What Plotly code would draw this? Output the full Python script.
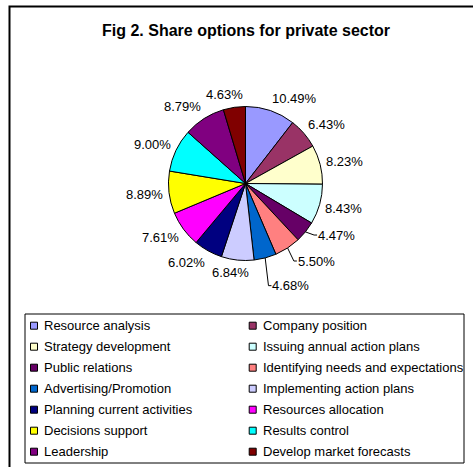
import math
import plotly.graph_objects as go

# ---- data ----
categories = [
    "Resource analysis", "Company position", "Strategy development",
    "Issuing annual action plans", "Public relations",
    "Identifying needs and expectations", "Advertising/Promotion",
    "Implementing action plans", "Planning current activities",
    "Resources allocation", "Decisions support", "Results control",
    "Leadership", "Develop market forecasts",
]
shares = [10.49, 6.43, 8.23, 8.43, 4.47, 5.50, 4.68, 6.84, 6.02, 7.61, 8.89, 9.00, 8.79, 4.63]
colors = [
    "#9999FF", "#993366", "#FFFFCC", "#CCFFFF", "#660066", "#FF8080", "#0066CC",
    "#CCCCFF", "#000080", "#FF00FF", "#FFFF00", "#00FFFF", "#800080", "#800000",
]
title_text = "Fig 2. Share options for private sector"

# ---- layout constants (window pixels) ----
W, H = 473, 467
CX, CY, R = 245.5, 183.5, 77.0
FONT = "Arial, Liberation Sans, sans-serif"
LABEL_SIZE = 13
# label nudges for crowded labels (pixel dx, dy), indexed by slice
label_nudge = {4: (8, -5.5), 5: (7, 1.5), 6: (7.7, 15.4)}


def px(x):
    return x / W


def py(y):
    return 1 - y / H


CHAR_W = {"%": 0.889, ".": 0.278}


def text_w(s, size):
    return sum(CHAR_W.get(c, 0.556) for c in s) * size


fig = go.Figure(
    go.Pie(
        labels=categories,
        values=shares,
        sort=False,
        direction="clockwise",
        rotation=0,
        marker=dict(colors=colors, line=dict(color="#000000", width=1)),
        textinfo="none",
        hoverinfo="label+percent",
        showlegend=False,
        domain=dict(x=[px(CX - R), px(CX + R)], y=[py(CY + R), py(CY - R)]),
    )
)

annotations = []
shapes = []

# outer frame
shapes.append(dict(type="rect", xref="paper", yref="paper",
                   x0=px(9.5), x1=px(W + 20), y0=py(H + 20), y1=py(6.5),
                   line=dict(color="#000000", width=2), fillcolor="rgba(0,0,0,0)"))

# title
annotations.append(dict(text="<b>" + title_text + "</b>", xref="paper", yref="paper",
                        x=px(CX), y=py(30), xanchor="center", yanchor="middle",
                        showarrow=False, font=dict(family=FONT, size=16, color="#000000")))

# data labels
total = sum(shares)
cum = 0.0
for i, v in enumerate(shares):
    mid = (cum + v / 2) / total * 2 * math.pi
    cum += v
    dx, dy = math.sin(mid), -math.cos(mid)
    label = f"{v / total * 100:.2f}%"
    w = text_w(label, LABEL_SIZE)
    h = LABEL_SIZE
    pxl, pyl = CX + (R + 6) * dx, CY + (R + 6) * dy
    fx = max(-1, min(1, 3.5 * dx))
    fy = max(-1, min(1, 1.2 * dy))
    cx, cy = pxl + w / 2 * fx, pyl + h / 2 * fy
    if i in label_nudge:
        ndx, ndy = label_nudge[i]
        cx, cy = cx + ndx, cy + ndy
        ex, ey = CX + R * dx, CY + R * dy
        left = cx - w / 2 - 1
        path = f"M{px(ex)},{py(ey)} L{px(left - 3)},{py(cy)} L{px(left)},{py(cy)}"
        shapes.append(dict(type="path", xref="paper", yref="paper", path=path,
                           line=dict(color="#000000", width=1)))
    annotations.append(dict(text=label, xref="paper", yref="paper", x=px(cx), y=py(cy),
                            xanchor="center", yanchor="middle", showarrow=False,
                            font=dict(family=FONT, size=LABEL_SIZE, color="#000000")))

# legend (drawn manually, two columns)
LX0, LY0, LX1, LY1 = 25, 314, 464, 463
shapes.append(dict(type="rect", xref="paper", yref="paper",
                   x0=px(LX0), x1=px(LX1), y0=py(LY1), y1=py(LY0),
                   line=dict(color="#000000", width=1), fillcolor="rgba(0,0,0,0)"))
col_x = [34, 252.7]
row_y0, row_step, msz = 325.7, 21, 7
for i, (name, c) in enumerate(zip(categories, colors)):
    col, row = i % 2, i // 2
    mx, my = col_x[col], row_y0 + row_step * row
    shapes.append(dict(type="rect", xref="paper", yref="paper",
                       x0=px(mx - msz / 2), x1=px(mx + msz / 2),
                       y0=py(my + msz / 2), y1=py(my - msz / 2),
                       fillcolor=c, line=dict(color="#000000", width=1)))
    annotations.append(dict(text=name, xref="paper", yref="paper",
                            x=px(mx + 8), y=py(my), xanchor="left", yanchor="middle",
                            showarrow=False,
                            font=dict(family=FONT, size=13, color="#000000")))

fig.update_layout(
    width=W, height=H, autosize=False,
    margin=dict(l=0, r=0, t=0, b=0),
    paper_bgcolor="#FFFFFF", plot_bgcolor="#FFFFFF",
    annotations=annotations, shapes=shapes,
)

fig.write_html(
    "out.html",
    config={"displayModeBar": False},
    post_script="document.body.style.margin='0';document.body.style.overflow='hidden';",
)
